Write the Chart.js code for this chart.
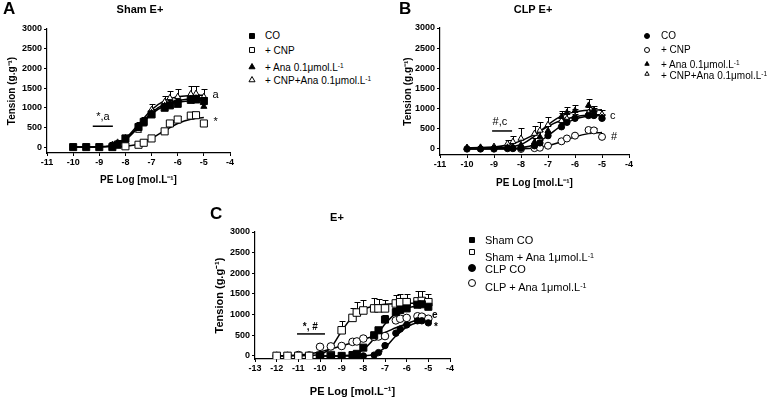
<!DOCTYPE html>
<html>
<head>
<meta charset="utf-8">
<script src="https://cdn.jsdelivr.net/npm/chart.js@4.4.1/dist/chart.umd.min.js"></script>
<style>
  body { margin: 0; background: #fff; font-family: "Liberation Sans", Arial, sans-serif; }
  #page { position: relative; width: 774px; height: 399px; overflow: hidden; background: #fff; }
  canvas.plot { position: absolute; }
  .letter { position: absolute; font-weight: bold; font-size: 17px; line-height: 1; }
  .ttl { position: absolute; font-weight: bold; font-size: 11px; line-height: 1; transform: translate(-50%, -50%); white-space: nowrap; }
  .leg { position: absolute; white-space: nowrap; line-height: 1; color: #000; }
  .leg canvas { position: absolute; }
  sup { font-size: 0.65em; vertical-align: 0.45em; line-height: 0; }
</style>
</head>
<body>
<div id="page">
  <canvas id="chartA" class="plot" width="245" height="195" style="left:0px;top:0px"></canvas>
  <canvas id="chartB" class="plot" width="250" height="195" style="left:392px;top:0px"></canvas>
  <canvas id="chartC" class="plot" width="260" height="194" style="left:200px;top:205px"></canvas>

  <div class="letter" style="left:3px;top:0px">A</div>
  <div class="ttl" style="left:140px;top:9px">Sham E+</div>
  <div class="letter" style="left:399px;top:0px">B</div>
  <div class="ttl" style="left:533px;top:9px">CLP E+</div>
  <div class="letter" style="left:210px;top:205px">C</div>
  <div class="ttl" style="left:337px;top:217px">E+</div>
</div>

<script>
// ---- Panel A : Sham E+ ----
const xA = [-10, -9.5, -9, -8.5, -8.3, -8, -7.5, -7.3, -7, -6.5, -6.3, -6, -5.5, -5.3, -5];
const xA_cnp = [-8, -7.5, -7.3, -7, -6.5, -6.3, -6, -5.5, -5.3, -5];
const xA_ana = [-8.5, -8.3, -8, -7.5, -7.3, -7, -6.5, -6.3, -6, -5.5, -5.3, -5];

const aCO = [0, 0, 0, 0, 60, 220, 510, 640, 830, 1000, 1060, 1100, 1200, 1210, 1170];
const aCOErr = [0, 0, 0, 0, 40, 60, 120, 110, 100, 100, 90, 90, 100, 90, 90];
const aCNP = [20, 60, 110, 220, 400, 600, 700, 800, 810, 600];
const aCNPErr = [0, 0, 0, 0, 50, 80, 90, 80, 80, 70];
const aAna = [40, 90, 230, 480, 650, 870, 1050, 1100, 1120, 1230, 1240, 1030];
const aAnaErr = [0, 50, 60, 120, 120, 100, 100, 100, 90, 120, 120, 0];
const aCnpAna = [60, 120, 170, 420, 580, 950, 1150, 1250, 1280, 1350, 1360, 1280];
const aCnpAnaErr = [60, 60, 60, 150, 170, 150, 150, 180, 200, 200, 200, 200];

// fitted curves
const fitXA = [-10, -9.5, -9, -8.5, -8, -7.5, -7, -6.5, -6, -5.5, -5];
const aCOFit = [0, 0, 5, 30, 180, 500, 840, 1050, 1140, 1180, 1190];
const aAnaFit = [0, 0, 5, 35, 200, 530, 880, 1090, 1180, 1220, 1235];
const aCnpAnaFit = [0, 0, 8, 50, 220, 580, 950, 1180, 1280, 1310, 1320];
const fitXA_cnp = [-8.5, -8, -7.5, -7, -6.5, -6, -5.5, -5];
const aCNPFit = [0, 20, 80, 220, 420, 600, 710, 750];

// ---- Panel B : CLP E+ ----
const xB = [-10, -9.5, -9, -8.5, -8.3, -8, -7.5, -7.3, -7, -6.5, -6.3, -6, -5.5, -5.3, -5];
const xB_cnp = [-8, -7.5, -7.3, -7, -6.5, -6.3, -6, -5.5, -5.3, -5];

const bCO = [0, 0, 0, 10, 10, 20, 80, 150, 330, 550, 660, 760, 830, 830, 760];
const bCOErr = [0, 0, 0, 0, 0, 0, 50, 60, 80, 100, 100, 100, 100, 100, 80];
const bCNP = [0, 20, 30, 80, 190, 260, 330, 470, 460, 300];
const bCNPErr = [0, 0, 0, 0, 0, 0, 0, 60, 60, 0];
const bAna = [30, 30, 30, 40, 60, 100, 170, 300, 450, 800, 900, 950, 1080, 950, 780];
const bAnaErr = [0, 0, 0, 0, 0, 0, 100, 150, 150, 150, 150, 150, 150, 120, 80];
const bCnpAna = [30, 40, 60, 130, 180, 260, 380, 460, 600, 700, 750, 800, 900, 860, 860];
const bCnpAnaErr = [0, 0, 0, 100, 150, 250, 200, 200, 200, 200, 200, 180, 150, 150, 100];

const fitXB = [-10, -9.5, -9, -8.5, -8, -7.5, -7, -6.5, -6, -5.5, -5];
const bCOFit = [0, 0, 2, 8, 30, 110, 330, 580, 740, 810, 830];
const bCNPFit = [0, 0, 0, 0, 5, 25, 80, 180, 300, 380, 410];
const bAnaFit = [30, 30, 35, 45, 110, 320, 600, 820, 920, 960, 970];
const bCnpAnaFit = [30, 35, 50, 100, 200, 360, 560, 710, 800, 840, 850];

// ---- Panel C : E+ ----
const xC = [-12, -11.5, -11, -10.5, -10, -9.5, -9, -8.5, -8.3, -8, -7.5, -7.3, -7, -6.5, -6.3, -6, -5.5, -5.3, -5];
const xC_co = [-10, -9.5, -9, -8.5, -8.3, -8, -7.5, -7.3, -7, -6.5, -6.3, -6, -5.5, -5.3, -5];

const cShamCO = [0, 0, 0, 20, 50, 200, 500, 620, 880, 1060, 1110, 1150, 1240, 1250, 1190];
const cShamCOErr = [0, 0, 0, 0, 0, 50, 80, 80, 100, 100, 100, 100, 100, 100, 80];
const cShamAna = [0, 0, 0, 0, 0, 20, 620, 920, 1050, 1100, 1150, 1150, 1150, 1270, 1300, 1300, 1320, 1330, 1300];
const cShamAnaErr = [0, 0, 0, 0, 0, 0, 230, 250, 250, 250, 250, 220, 200, 200, 200, 200, 250, 250, 200];
const cClpCO = [0, 0, 0, 0, 0, 0, 20, 80, 250, 550, 650, 750, 850, 850, 800];
const cClpCOErr = [0, 0, 0, 0, 0, 0, 30, 50, 60, 50, 50, 50, 50, 50, 40];
const cClpAna = [0, 0, 20, 10, 220, 230, 240, 340, 350, 420, 460, 470, 480, 860, 900, 920, 960, 950, 900];
const cClpAnaErr = [0, 0, 0, 0, 0, 0, 0, 0, 0, 0, 0, 0, 0, 50, 50, 50, 60, 60, 40];

const fitXC = [-12, -11.5, -11, -10.5, -10, -9.5, -9, -8.5, -8, -7.5, -7, -6.5, -6, -5.5, -5];
const cShamAnaFit = [0, 0, 5, 10, 40, 200, 600, 950, 1130, 1210, 1250, 1265, 1270, 1275, 1275];
const cClpAnaFit = [0, 5, 20, 50, 100, 170, 240, 320, 400, 480, 570, 680, 780, 870, 920];
const fitXC_sham = [-10, -9.5, -9, -8.5, -8, -7.5, -7, -6.5, -6, -5.5, -5];
const cShamCOFit = [0, 0, 5, 30, 150, 420, 770, 1030, 1160, 1210, 1220];
const fitXC_clp = [-10, -9, -8, -7.5, -7, -6.5, -6, -5.5, -5];
const cClpCOFit = [0, 0, 5, 40, 200, 480, 700, 810, 850];

// axis ticks
const yTicks = [0, 500, 1000, 1500, 2000, 2500, 3000];
const xTicksAB = [-11, -10, -9, -8, -7, -6, -5, -4];
const xTicksC = [-13, -12, -11, -10, -9, -8, -7, -6, -5, -4];

// legend labels
const legendA = ['CO', '+ CNP', '+ Ana 0.1\u03bcmol.L<sup>-1</sup>', '+ CNP+Ana 0.1\u03bcmol.L<sup>-1</sup>'];
const legendB = ['CO', '+ CNP', '+ Ana 0.1\u03bcmol.L<sup>-1</sup>', '+ CNP+Ana 0.1\u03bcmol.L<sup>-1</sup>'];
const legendC = ['Sham CO', 'Sham + Ana 1\u03bcmol.L<sup>-1</sup>', 'CLP CO', 'CLP + Ana 1\u03bcmol.L<sup>-1</sup>'];

function pts(xs, ys) {
    return xs.map((x, i) => ({ x: x, y: ys[i] }));
}

// points with their error bars
function markerSet(label, xs, ys, errs, style, filled, r) {
    return {
        label: label,
        data: pts(xs, ys),
        errors: errs,
        showLine: false,
        pointStyle: style,
        pointRadius: r,
        pointBackgroundColor: filled ? '#000' : '#fff',
        pointBorderColor: '#000',
        pointBorderWidth: 1
    };
}

// fitted curve
function fitSet(xs, ys) {
    return {
        data: pts(xs, ys),
        showLine: true,
        pointRadius: 0,
        borderColor: '#000',
        borderWidth: 1.5,
        cubicInterpolationMode: 'monotone',
        fill: false
    };
}

// upward SEM bars, drawn under the markers
const errorBarPlugin = {
    id: 'errorBars',
    beforeDatasetsDraw(chart) {
        const { ctx, scales: { x, y } } = chart;
        ctx.save();
        ctx.strokeStyle = '#000';
        ctx.lineWidth = 1;
        chart.data.datasets.forEach(ds => {
            if (!ds.errors) return;
            ds.data.forEach((p, j) => {
                const e = ds.errors[j];
                if (!e) return;
                const px = Math.round(x.getPixelForValue(p.x)) + 0.5;
                const py0 = y.getPixelForValue(p.y);
                const py1 = Math.round(y.getPixelForValue(p.y + e)) + 0.5;
                ctx.beginPath();
                ctx.moveTo(px, py0);
                ctx.lineTo(px, py1);
                ctx.moveTo(px - 3, py1);
                ctx.lineTo(px + 3, py1);
                ctx.stroke();
            });
        });
        ctx.restore();
    }
};

// significance letters and bars
function notesPlugin(texts, bars, font) {
    return {
        id: 'notes',
        afterDatasetsDraw(chart) {
            const { ctx, scales: { x, y } } = chart;
            ctx.save();
            ctx.fillStyle = '#000';
            ctx.strokeStyle = '#000';
            ctx.font = font;
            ctx.textAlign = 'center';
            ctx.textBaseline = 'middle';
            texts.forEach(t => ctx.fillText(t.text, x.getPixelForValue(t.x), y.getPixelForValue(t.y)));
            ctx.lineWidth = 1.5;
            bars.forEach(b => {
                const py = y.getPixelForValue(b.y);
                ctx.beginPath();
                ctx.moveTo(x.getPixelForValue(b.x1), py);
                ctx.lineTo(x.getPixelForValue(b.x2), py);
                ctx.stroke();
            });
            ctx.restore();
        }
    };
}

function makePanel(id, cfg) {
    const ctx = document.getElementById(id).getContext('2d');
    const gridCfg = { drawOnChartArea: false, drawTicks: true, tickLength: 3, color: '#000', lineWidth: 1 };
    const borderCfg = { display: true, color: '#000', width: 1.2 };
    return new Chart(ctx, {
        type: 'scatter',
        data: { datasets: cfg.datasets },
        options: {
            responsive: false,
            animation: false,
            events: [],
            layout: { padding: { top: cfg.padTop, right: cfg.padRight, left: 0, bottom: 0 } },
            plugins: { legend: { display: false }, tooltip: { enabled: false } },
            scales: {
                x: {
                    type: 'linear',
                    min: cfg.xMin,
                    max: -4,
                    afterBuildTicks: s => { s.ticks = cfg.xTicks.map(v => ({ value: v })); },
                    afterFit: s => { s.height = cfg.xH; },
                    ticks: {
                        autoSkip: false, maxRotation: 0, padding: 1, color: '#000',
                        font: { family: 'Liberation Sans', size: 9, weight: 'bold' },
                        callback: v => String(v)
                    },
                    grid: gridCfg,
                    border: borderCfg,
                    title: {
                        display: true, text: 'PE Log [mol.L\u207b\u00b9]', color: '#000',
                        font: { family: 'Liberation Sans', size: cfg.titleSize, weight: 'bold' },
                        padding: { top: 0, bottom: cfg.xTitlePad }
                    }
                },
                y: {
                    type: 'linear',
                    min: cfg.yMin,
                    max: 3000,
                    afterBuildTicks: s => { s.ticks = yTicks.map(v => ({ value: v })); },
                    afterFit: s => { s.width = cfg.yW; },
                    ticks: {
                        autoSkip: false, padding: 2, color: '#000',
                        font: { family: 'Liberation Sans', size: 9, weight: 'bold' },
                        callback: v => String(v)
                    },
                    grid: gridCfg,
                    border: borderCfg,
                    title: {
                        display: true, text: 'Tension (g.g\u207b\u00b9)', color: '#000',
                        font: { family: 'Liberation Sans', size: cfg.titleSize, weight: 'bold' },
                        padding: { top: cfg.yTitlePad, bottom: 0 }
                    }
                }
            }
        },
        plugins: [errorBarPlugin, notesPlugin(cfg.texts, cfg.bars, cfg.noteFont)]
    });
}

// legend rows, markers drawn with Chart.js' own point helper
function addLegend(labels, styles, rows, symX, textX, fontSize, r) {
    const page = document.getElementById('page');
    labels.forEach((lab, i) => {
        const c = document.createElement('canvas');
        c.width = 12; c.height = 12;
        c.style.position = 'absolute';
        c.style.left = (symX - 6) + 'px';
        c.style.top = (rows[i].sym - 6) + 'px';
        const g = c.getContext('2d');
        g.fillStyle = styles[i].filled ? '#000' : '#fff';
        g.strokeStyle = '#000';
        g.lineWidth = 1;
        Chart.helpers.drawPoint(g, { pointStyle: styles[i].style, radius: r, rotation: 0, borderWidth: 1 }, 6, 6);
        page.appendChild(c);

        const d = document.createElement('div');
        d.className = 'leg';
        d.style.fontSize = fontSize + 'px';
        d.style.left = textX + 'px';
        d.style.top = (rows[i].text - fontSize / 2) + 'px';
        d.innerHTML = lab;
        page.appendChild(d);
    });
}

makePanel('chartA', {
    padTop: 29, padRight: 15, yW: 47, xH: 42, xMin: -11, yMin: -150,
    xTicks: xTicksAB, titleSize: 10, xTitlePad: 9, yTitlePad: 6,
    noteFont: '11px "Liberation Sans"',
    texts: [{ x: -4.55, y: 1320, text: 'a' }, { x: -4.55, y: 640, text: '*' }, { x: -8.86, y: 760, text: '*,a' }],
    bars: [{ x1: -9.25, x2: -8.48, y: 530 }],
    datasets: [
        markerSet('CO', xA, aCO, aCOErr, 'rect', true, 5),
        markerSet('+ CNP', xA_cnp, aCNP, aCNPErr, 'rect', false, 5),
        markerSet('+ Ana', xA_ana, aAna, aAnaErr, 'triangle', true, 3.5),
        markerSet('+ CNP+Ana', xA_ana, aCnpAna, aCnpAnaErr, 'triangle', false, 3.5),
        fitSet(fitXA, aCOFit),
        fitSet(fitXA_cnp, aCNPFit),
        fitSet(fitXA, aAnaFit),
        fitSet(fitXA, aCnpAnaFit)
    ]
});

makePanel('chartB', {
    padTop: 28, padRight: 13, yW: 48, xH: 40, xMin: -11, yMin: -150,
    xTicks: xTicksAB, titleSize: 10, xTitlePad: 6, yTitlePad: 10,
    noteFont: '11px "Liberation Sans"',
    texts: [{ x: -4.6, y: 820, text: 'c' }, { x: -4.55, y: 300, text: '#' }, { x: -8.78, y: 660, text: '#,c' }],
    bars: [{ x1: -9.07, x2: -8.33, y: 446 }],
    datasets: [
        markerSet('CO', xB, bCO, bCOErr, 'circle', true, 3.2),
        markerSet('+ CNP', xB_cnp, bCNP, bCNPErr, 'circle', false, 3.5),
        markerSet('+ Ana', xB, bAna, bAnaErr, 'triangle', true, 3.5),
        markerSet('+ CNP+Ana', xB, bCnpAna, bCnpAnaErr, 'triangle', false, 3.5),
        fitSet(fitXB, bCOFit),
        fitSet(fitXB, bCNPFit),
        fitSet(fitXB, bAnaFit),
        fitSet(fitXB, bCnpAnaFit)
    ]
});

makePanel('chartC', {
    padTop: 27, padRight: 10, yW: 55, xH: 40, xMin: -13, yMin: -75,
    xTicks: xTicksC, titleSize: 11, xTitlePad: 0, yTitlePad: 13,
    noteFont: 'bold 10px "Liberation Sans"',
    texts: [{ x: -4.7, y: 990, text: 'e' }, { x: -4.65, y: 700, text: '*' }, { x: -10.45, y: 690, text: '*, #' }],
    bars: [{ x1: -11.06, x2: -9.77, y: 532 }],
    datasets: [
        markerSet('Sham CO', xC_co, cShamCO, cShamCOErr, 'rect', true, 5),
        markerSet('Sham + Ana', xC, cShamAna, cShamAnaErr, 'rect', false, 5.3),
        markerSet('CLP CO', xC_co, cClpCO, cClpCOErr, 'circle', true, 3.2),
        markerSet('CLP + Ana', xC, cClpAna, cClpAnaErr, 'circle', false, 3.8),
        fitSet(fitXC_sham, cShamCOFit),
        fitSet(fitXC, cShamAnaFit),
        fitSet(fitXC_clp, cClpCOFit),
        fitSet(fitXC, cClpAnaFit)
    ]
});

addLegend(legendA,
    [{ style: 'rect', filled: true }, { style: 'rect', filled: false }, { style: 'triangle', filled: true }, { style: 'triangle', filled: false }],
    [{ sym: 36, text: 36 }, { sym: 50, text: 51 }, { sym: 67, text: 68 }, { sym: 80, text: 81 }],
    252, 265, 10, 3.5);
addLegend(legendB,
    [{ style: 'circle', filled: true }, { style: 'circle', filled: false }, { style: 'triangle', filled: true }, { style: 'triangle', filled: false }],
    [{ sym: 36, text: 36 }, { sym: 50, text: 50 }, { sym: 64, text: 65 }, { sym: 74, text: 76 }],
    647, 661, 10, 2.5);
addLegend(legendC,
    [{ style: 'rect', filled: true }, { style: 'rect', filled: false }, { style: 'circle', filled: true }, { style: 'circle', filled: false }],
    [{ sym: 240, text: 240 }, { sym: 252, text: 257 }, { sym: 268, text: 269 }, { sym: 283, text: 287 }],
    472, 485, 11, 3.5);
</script>
</body>
</html>
